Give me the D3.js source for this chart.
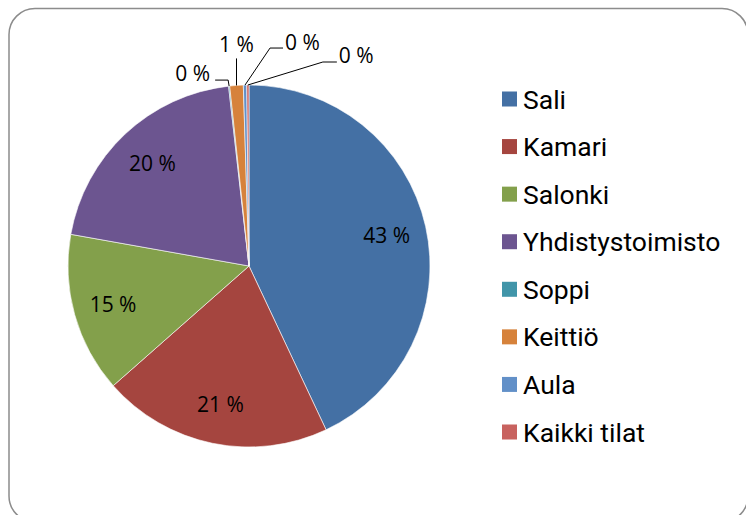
<!DOCTYPE html>
<html>
<head>
<meta charset="utf-8">
<script src="https://cdn.jsdelivr.net/npm/d3@7"></script>
<style>
  body { margin: 0; background: #fff; }
  svg { display: block; }
</style>
</head>
<body>
<div id="chart"></div>
<script>
// share of bookings per room (%)
const rooms = ["Sali", "Kamari", "Salonki", "Yhdistystoimisto", "Soppi", "Keittiö", "Aula", "Kaikki tilat"];
const shares = [43.0, 20.5, 14.3, 20.4, 0.1, 1.2, 0.3, 0.2];
const shareLabels = ["43 %", "21 %", "15 %", "20 %", "0 %", "1 %", "0 %", "0 %"];
const colors = ["#4470a4", "#a5453f", "#83a04b", "#6c5590", "#4195a9", "#d6823b", "#6290c8", "#c8625f"];

function createPie(id) {
	let width = 746, height = 515;
	let cx = 249, cy = 266, radius = 181;

	let svg = d3.select(id)
		.append("svg")
		.attr("width", width)
		.attr("height", height);

	// chart frame with rounded corners (runs past the right and bottom edge)
	svg.append("rect")
		.attr("x", 9).attr("y", 8.5)
		.attr("width", 739).attr("height", 513.5)
		.attr("rx", 26).attr("ry", 26)
		.attr("fill", "none")
		.attr("stroke", "#8c8c8c")
		.attr("stroke-width", 1.5);

	let data = rooms.map((r, i) => ({ room: r, value: shares[i], label: shareLabels[i], color: colors[i] }));

	let pie = d3.pie().sort(null).value(d => d.value);
	let arcs = pie(data);

	let arc = d3.arc().innerRadius(0).outerRadius(radius);
	let labelArc = d3.arc().innerRadius(radius * 0.78).outerRadius(radius * 0.78);

	let g = svg.append("g").attr("transform", `translate(${cx},${cy})`);

	g.selectAll("path.slice")
		.data(arcs)
		.enter()
		.append("path")
		.attr("class", "slice")
		.attr("d", arc)
		.attr("fill", d => d.data.color)
		.attr("stroke", "#ffffff")
		.attr("stroke-width", 0.6);

	// big slices get the label inside
	let inside = arcs.filter(d => d.data.value >= 5);
	g.selectAll("text.inside")
		.data(inside)
		.enter()
		.append("text")
		.attr("class", "inside")
		.attr("transform", d => `translate(${labelArc.centroid(d)})`)
		.attr("text-anchor", "middle")
		.attr("dominant-baseline", "central")
		.style("font-family", "'Open Sans', sans-serif")
		.style("font-size", "21px")
		.attr("fill", "#000")
		.text(d => d.data.label);

	// small slices: label outside with a leader line (offsets from the rim, in px)
	let outsideOffsets = {
		"Soppi":        { bend: [-1, -6],  end: [-14, -6],  text: [-19, -13], anchor: "end" },
		"Keittiö":      { bend: [0, -27],  end: null,       text: [0, -41],   anchor: "middle" },
		"Aula":         { bend: [25, -37], end: [38, -37],  text: [40, -43],  anchor: "start" },
		"Kaikki tilat": { bend: [75, -23], end: [89, -23],  text: [91, -30],  anchor: "start" }
	};
	let outside = arcs.filter(d => d.data.value < 5);
	let rim = d => {
		let a = (d.startAngle + d.endAngle) / 2;
		return [Math.sin(a) * radius, -Math.cos(a) * radius];
	};

	g.selectAll("polyline.leader")
		.data(outside)
		.enter()
		.append("polyline")
		.attr("class", "leader")
		.attr("points", d => {
			let p = rim(d), o = outsideOffsets[d.data.room];
			let pts = [p, [p[0] + o.bend[0], p[1] + o.bend[1]]];
			if (o.end) pts.push([p[0] + o.end[0], p[1] + o.end[1]]);
			return pts.map(q => q.join(",")).join(" ");
		})
		.attr("fill", "none")
		.attr("stroke", "#000")
		.attr("stroke-width", 1);

	g.selectAll("text.outside")
		.data(outside)
		.enter()
		.append("text")
		.attr("class", "outside")
		.attr("transform", d => {
			let p = rim(d), o = outsideOffsets[d.data.room];
			return `translate(${p[0] + o.text[0]},${p[1] + o.text[1]})`;
		})
		.attr("text-anchor", d => outsideOffsets[d.data.room].anchor)
		.attr("dominant-baseline", "central")
		.style("font-family", "'Open Sans', sans-serif")
		.style("font-size", "21px")
		.attr("fill", "#000")
		.text(d => d.data.label);

	// legend
	let legendY = d3.scalePoint().domain(rooms).range([99, 432]);
	let legend = svg.selectAll("g.legend")
		.data(data)
		.enter()
		.append("g")
		.attr("class", "legend")
		.attr("transform", d => `translate(502,${legendY(d.room)})`);

	legend.append("rect")
		.attr("x", 0).attr("y", -7.5)
		.attr("width", 15).attr("height", 15)
		.attr("fill", d => d.color);

	legend.append("text")
		.attr("x", 21)
		.attr("y", 0)
		.attr("dominant-baseline", "central")
		.style("font-family", "Roboto, sans-serif")
		.style("font-size", "26.5px")
		.attr("fill", "#000")
		.text(d => d.room);
}

createPie("#chart");
</script>
</body>
</html>
